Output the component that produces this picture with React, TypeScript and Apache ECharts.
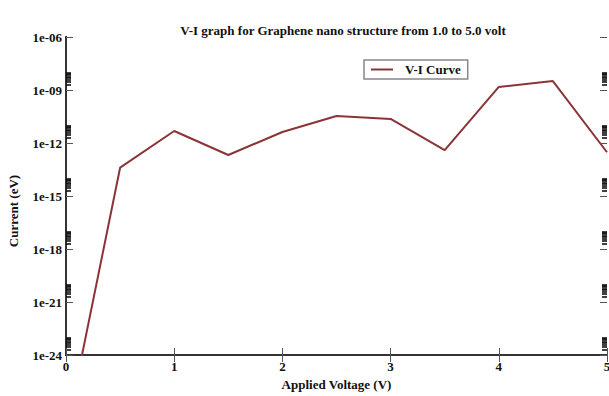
import { useEffect, useRef } from "react";
import * as echarts from "echarts";

const voltages = [0, 0.5, 1.0, 1.5, 2.0, 2.5, 3.0, 3.5, 4.0, 4.5, 5.0];
const currents = [3.5e-29, 4e-14, 4.8e-12, 2.1e-13, 4.2e-12, 3.4e-11, 2.3e-11, 4e-13, 1.5e-9, 3.2e-9, 3e-13];
const seriesName = "V-I Curve";
const titleText = "V-I graph for Graphene nano structure from 1.0 to 5.0 volt";
const xName = "Applied Voltage (V)";
const yName = "Current (eV)";
const yMinExp = -24;
const yMaxExp = -6;
const yLabelStep = 3;
const decadeExponents = [-24, -21, -18, -15, -12, -9];
const minorMultipliers = [2, 3, 4, 5, 6, 7, 8, 9];

const FONT = "'Liberation Serif', 'DejaVu Serif', serif";

export default function App() {
  const ref = useRef<HTMLDivElement>(null);
  useEffect(() => {
    if (!ref.current) return;
    const chart = echarts.init(ref.current, null, { renderer: "svg", width: 609, height: 396 });
    const minorTicks: number[] = [];
    decadeExponents.forEach((e) => minorMultipliers.forEach((m) => minorTicks.push(e + Math.log10(m))));
    const fmtExp = (v: number) => {
      const e = Math.round(v);
      const a = Math.abs(e);
      return "1e" + (e < 0 ? "-" : "+") + (a < 10 ? "0" + a : String(a));
    };
    const frameLine = { show: true, lineStyle: { color: "#333", width: 2 } };
    const majorTick = { show: true, inside: true, length: 7, lineStyle: { color: "#555", width: 1 } };
    const hidden = { show: false };
    const logAxis = (pos: string) => ({
      type: "log",
      position: pos,
      min: Math.pow(10, yMinExp),
      max: Math.pow(10, yMaxExp),
      axisLine: frameLine,
      axisTick: hidden,
      axisLabel: hidden,
      splitLine: hidden,
    });
    const expAxis = (pos: string, withLabels: boolean) => ({
      type: "value",
      position: pos,
      min: yMinExp,
      max: yMaxExp,
      interval: yLabelStep,
      axisLine: hidden,
      axisTick: majorTick,
      splitLine: hidden,
      ...(withLabels
        ? {
            name: yName,
            nameLocation: "middle",
            nameGap: 46,
            nameTextStyle: { fontFamily: FONT, fontSize: 13, fontWeight: "bold", color: "#111", padding: [0, 30, 0, 0] },
            axisLabel: { fontFamily: FONT, fontSize: 13, fontWeight: "bold", color: "#111", margin: 4, formatter: fmtExp, showMinLabel: true, showMaxLabel: true },
          }
        : { axisLabel: hidden }),
    });
    const blobAxis = (pos: string) => ({
      type: "value",
      position: pos,
      min: yMinExp,
      max: yMaxExp,
      axisLine: hidden,
      axisLabel: hidden,
      splitLine: hidden,
      axisTick: { show: true, inside: true, length: 5, customValues: minorTicks, lineStyle: { color: "#111", width: 1.6 } },
    });
    chart.setOption({
      animation: false,
      backgroundColor: "#fff",
      title: {
        text: titleText,
        left: 338,
        textAlign: "center",
        top: 19,
        textStyle: { fontFamily: FONT, fontSize: 13, fontWeight: "bold", color: "#111" },
      },
      legend: {
        data: [seriesName],
        left: 364,
        top: 60,
        padding: [3, 7, 3, 7],
        icon: "rect",
        itemWidth: 22,
        itemHeight: 2,
        borderColor: "#888",
        borderWidth: 1.5,
        textStyle: { fontFamily: FONT, fontSize: 13, fontWeight: "bold", color: "#111", padding: [0, 0, 0, 7] },
      },
      grid: { left: 66, right: 2, top: 37, bottom: 41, containLabel: false, outerBoundsMode: "none" },
      xAxis: [
        {
          type: "value",
          position: "bottom",
          min: 0,
          max: 5,
          interval: 1,
          name: xName,
          nameLocation: "middle",
          nameGap: 23,
          nameTextStyle: { fontFamily: FONT, fontSize: 13, fontWeight: "bold", color: "#111" },
          axisLine: frameLine,
          axisTick: majorTick,
          axisLabel: { fontFamily: FONT, fontSize: 13, fontWeight: "bold", color: "#111", margin: 5, showMinLabel: true, showMaxLabel: true },
          splitLine: hidden,
        },
        {
          type: "value",
          position: "top",
          min: 0,
          max: 5,
          interval: 1,
          axisLine: frameLine,
          axisTick: majorTick,
          axisLabel: hidden,
          splitLine: hidden,
        },
      ],
      yAxis: [
        logAxis("left"),
        logAxis("right"),
        expAxis("left", true),
        expAxis("right", false),
        blobAxis("left"),
        blobAxis("right"),
      ],
      series: [
        {
          name: seriesName,
          type: "line",
          xAxisIndex: 0,
          yAxisIndex: 0,
          data: voltages.map((v, i) => [v, currents[i]]),
          showSymbol: false,
          symbol: "none",
          clip: true,
          lineStyle: { color: "#8b3438", width: 2 },
          itemStyle: { color: "#8b3438" },
        },
      ],
    });
    return () => chart.dispose();
  }, []);
  return (
    <div
      ref={ref}
      style={{ position: "absolute", left: 0, top: 0, width: 609, height: 396, background: "#fff" }}
    />
  );
}
